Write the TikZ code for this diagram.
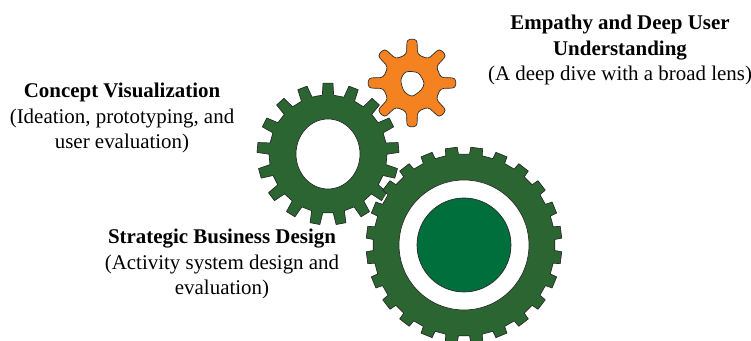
\documentclass[tikz,border=0pt]{standalone}
\usepackage{fontspec}
\setmainfont{Liberation Serif}
\definecolor{geargreen}{HTML}{2B6632}
\definecolor{hubgreen}{HTML}{006F3C}
\definecolor{gearorange}{HTML}{F58220}
\tikzset{
  gearline/.style={draw=black!85, line width=0.5pt, line join=round},
  label/.style={align=center, font=\fontsize{15.7}{19.1}\selectfont, inner sep=0pt},
}
% dientes, raiz, punta, giro, ancho raiz, ancho punta
\newcommand{\gearteeth}[6]{
  (#4+180/#1:#2)
  \foreach \i [evaluate=\i as \a using #4+\i*360/#1] in {1,...,#1} {
    -- (\a-#5:#2) -- (\a-#6:#3) -- (\a+#6:#3) -- (\a+#5:#2)
  } -- cycle
}
\begin{document}
\begin{tikzpicture}[x=0.75pt, y=0.75pt]
\useasboundingbox (0,0) rectangle (751,341);
\coordinate (small) at (412,258);
\coordinate (middle) at (328,187);
\coordinate (big) at (464,96);

\draw [gearline, fill=gearorange, shift={(small)}, rounded corners=2.5pt] \gearteeth{8}{29}{44}{0}{11}{6.5};
\draw [gearline, fill=white, shift={(small)}] plot [smooth cycle] coordinates {(-11,3) (-6,11) (6,10) (12,0) (9,-7) (0,-13) (-8,-8)};	% hueco

\draw [gearline, fill=geargreen, shift={(middle)}] \gearteeth{17}{59}{71}{90}{5.5}{4};
\draw [gearline, fill=white] (middle) ellipse [x radius=32, y radius=35];

\fill [white, shift={(big)}] (0,0) circle (93);	% separa los engranajes
\draw [gearline, fill=geargreen, shift={(big)}] \gearteeth{24}{91}{98}{7.5}{4}{3.5};
\draw [gearline, fill=white] (big) circle (65);
\draw [gearline, fill=hubgreen] (big) circle (47);

\node [label] (empathy) at (620,291) {\textbf{Empathy and Deep User}\\\textbf{Understanding}\\(A deep dive with a broad lens)};
\node [label] (concept) at (122,223) {\textbf{Concept Visualization}\\(Ideation, prototyping, and\\user evaluation)};
\node [label] (strategic) at (222,77) {\textbf{Strategic Business Design}\\(Activity system design and\\evaluation)};
\end{tikzpicture}
\end{document}
